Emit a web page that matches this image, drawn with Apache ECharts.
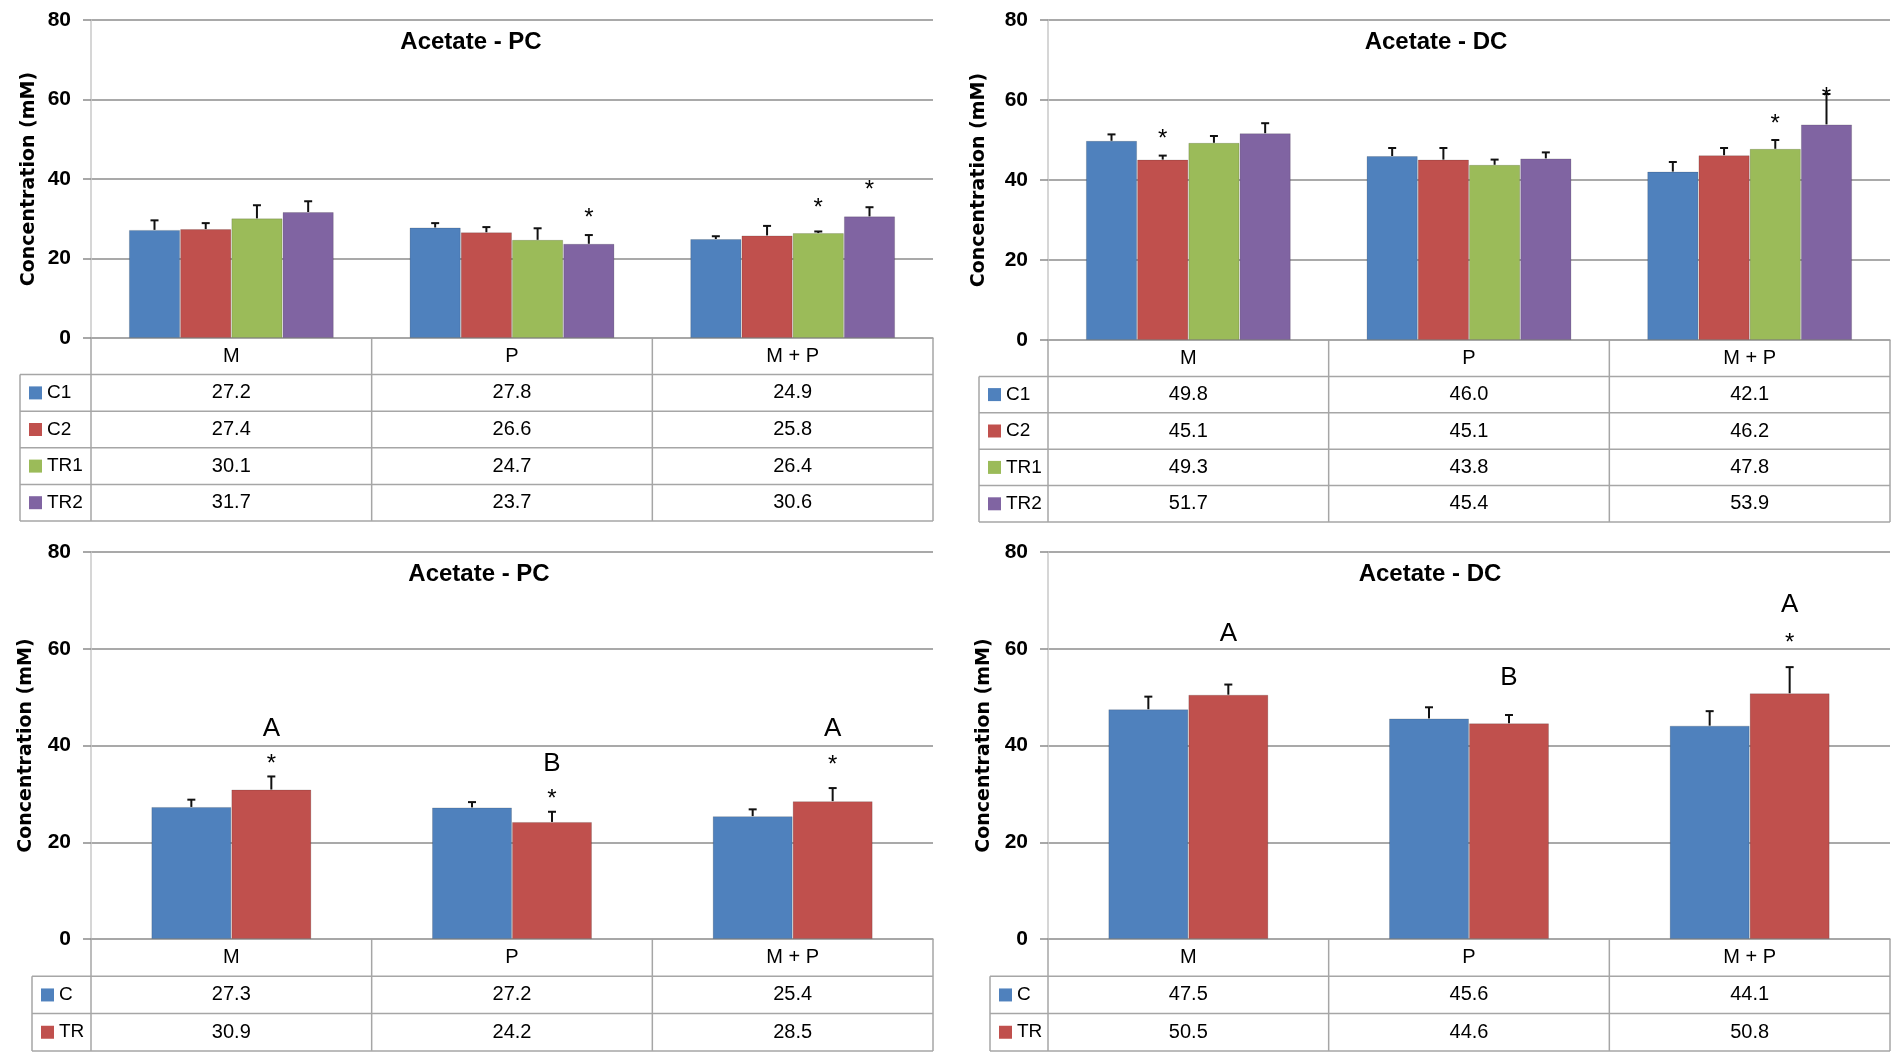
<!DOCTYPE html>
<html>
<head>
<meta charset="utf-8">
<script src="https://cdn.jsdelivr.net/npm/echarts@6/dist/echarts.min.js"></script>
<style>html,body{margin:0;padding:0;background:#fff;}#c{width:1901px;height:1063px;}</style>
</head>
<body>
<div id="c"></div>
<script>
// ---------- DATA ----------
const categories = ['M', 'P', 'M + P'];
const yMin = 0, yMax = 80, yStep = 20;

// Panel A: Acetate - PC (4 groups)
const titleA = 'Acetate - PC';
const namesA = ['C1', 'C2', 'TR1', 'TR2'];
const A_C1 = [27.2, 27.8, 24.9];
const A_C2 = [27.4, 26.6, 25.8];
const A_TR1 = [30.1, 24.7, 26.4];
const A_TR2 = [31.7, 23.7, 30.6];
const A_C1_err = [2.4, 1.1, 0.7];
const A_C2_err = [1.5, 1.3, 2.4];
const A_TR1_err = [3.3, 2.9, 0.4];
const A_TR2_err = [2.7, 2.2, 2.3];
const annA_cat = [1, 2, 2];
const annA_ser = [3, 2, 3];
const annA_y = [31.3, 33.9, 38.4];
const annA_txt = ['*', '*', '*'];

// Panel B: Acetate - DC (4 groups)
const titleB = 'Acetate - DC';
const namesB = ['C1', 'C2', 'TR1', 'TR2'];
const B_C1 = [49.8, 46.0, 42.1];
const B_C2 = [45.1, 45.1, 46.2];
const B_TR1 = [49.3, 43.8, 47.8];
const B_TR2 = [51.7, 45.4, 53.9];
const B_C1_err = [1.6, 2.0, 2.4];
const B_C2_err = [1.0, 2.9, 1.8];
const B_TR1_err = [1.7, 1.3, 2.2];
const B_TR2_err = [2.5, 1.5, 7.6];
const annB_cat = [0, 2, 2];
const annB_ser = [1, 2, 3];
const annB_y = [51.4, 55.2, 62.0];
const annB_txt = ['*', '*', '*'];

// Panel C: Acetate - PC (2 groups)
const titleC = 'Acetate - PC';
const namesC = ['C', 'TR'];
const C_C = [27.3, 27.2, 25.4];
const C_TR = [30.9, 24.2, 28.5];
const C_C_err = [1.5, 1.1, 1.4];
const C_TR_err = [2.7, 2.1, 2.7];
const annC_cat = [0, 0, 1, 1, 2, 2];
const annC_ser = [1, 1, 1, 1, 1, 1];
const annC_y = [37.2, 43.4, 30.0, 36.3, 37.0, 43.4];
const annC_txt = ['*', 'A', '*', 'B', '*', 'A'];

// Panel D: Acetate - DC (2 groups)
const titleD = 'Acetate - DC';
const namesD = ['C', 'TR'];
const D_C = [47.5, 45.6, 44.1];
const D_TR = [50.5, 44.6, 50.8];
const D_C_err = [2.6, 2.3, 3.0];
const D_TR_err = [2.1, 1.7, 5.4];
const annD_cat = [0, 1, 2, 2];
const annD_ser = [1, 1, 1, 1];
const annD_y = [63.0, 54.0, 62.3, 69.0];
const annD_txt = ['A', 'B', '*', 'A'];

const colors = ['#4F81BD', '#C0504D', '#9BBB59', '#8064A2'];

// ---------- LAYOUT ----------
const W = 1901, H = 1063;
const panels = [
  { title: titleA, names: namesA, vals: [A_C1, A_C2, A_TR1, A_TR2], errs: [A_C1_err, A_C2_err, A_TR1_err, A_TR2_err],
    ann: { cat: annA_cat, ser: annA_ser, y: annA_y, txt: annA_txt },
    l: 91, r: 933, t: 20, b: 338, tl: 20, rowH: 36.6, gap: 0.27, titleX: 466, titleY: 39, nameGap: 52 },
  { title: titleB, names: namesB, vals: [B_C1, B_C2, B_TR1, B_TR2], errs: [B_C1_err, B_C2_err, B_TR1_err, B_TR2_err],
    ann: { cat: annB_cat, ser: annB_ser, y: annB_y, txt: annB_txt },
    l: 1048, r: 1890, t: 20, b: 340, tl: 979, rowH: 36.4, gap: 0.27, titleX: 1431, titleY: 39, nameGap: 59 },
  { title: titleC, names: namesC, vals: [C_C, C_TR], errs: [C_C_err, C_TR_err],
    ann: { cat: annC_cat, ser: annC_ser, y: annC_y, txt: annC_txt },
    l: 91, r: 933, t: 552, b: 939, tl: 32, rowH: 37.3, gap: 0.43, titleX: 474, titleY: 571, nameGap: 55 },
  { title: titleD, names: namesD, vals: [D_C, D_TR], errs: [D_C_err, D_TR_err],
    ann: { cat: annD_cat, ser: annD_ser, y: annD_y, txt: annD_txt },
    l: 1048, r: 1890, t: 552, b: 939, tl: 990, rowH: 37.3, gap: 0.43, titleX: 1425, titleY: 571, nameGap: 54 }
];

const FONT = "'Liberation Sans', Arial, sans-serif";
const gridColor = '#8c8c8c';
const tableColor = '#a6a6a6';

const grid = [], xAxis = [], yAxis = [], series = [], title = [], graphic = [];

panels.forEach((p, pi) => {
  grid.push({ left: p.l, right: W - p.r, top: p.t, bottom: H - p.b, containLabel: false });
  title.push({ text: p.title, left: p.titleX, top: p.titleY - 14, textAlign: 'center',
    textStyle: { fontFamily: FONT, fontWeight: 'bold', fontSize: 24, color: '#000' } });
  xAxis.push({
    type: 'category', gridIndex: pi, data: categories,
    axisLine: { show: true, lineStyle: { color: tableColor, width: 1.5 } },
    axisTick: { show: false },
    axisLabel: {
      margin: 0, interval: 0, lineHeight: p.rowH, fontSize: 20, fontFamily: FONT, color: '#000',
      formatter: (v, idx) => [v].concat(p.vals.map(s => s[idx].toFixed(1))).join('\n')
    }
  });
  yAxis.push({
    type: 'value', gridIndex: pi, min: yMin, max: yMax, interval: yStep,
    name: 'Concentration (mM)', nameLocation: 'middle', nameGap: p.nameGap,
    nameTextStyle: { fontFamily: 'DejaVu Sans', fontWeight: 'bold', fontSize: 19, color: '#000' },
    axisLine: { show: true, lineStyle: { color: '#c8c8c8', width: 1.5 } },
    axisTick: { show: true, length: 8, lineStyle: { color: gridColor, width: 1.5 } },
    axisLabel: { margin: 20, fontFamily: FONT, fontWeight: 'bold', fontSize: 21, color: '#000' },
    splitLine: { show: true, lineStyle: { color: gridColor, width: 1.5 } }
  });
  const n = p.names.length;
  p.names.forEach((nm, si) => {
    series.push({
      type: 'bar', name: nm, xAxisIndex: pi, yAxisIndex: pi, data: p.vals[si],
      barGap: '0%', barCategoryGap: (p.gap * 100) + '%',
      itemStyle: { color: colors[si], borderColor: 'rgba(0,0,0,0.15)', borderWidth: 1 },
      emphasis: { disabled: true }
    });
  });
  // error bars
  const errData = [];
  p.vals.forEach((s, si) => s.forEach((v, c) => errData.push([c, v, si, p.errs[si][c]])));
  series.push({
    type: 'custom', xAxisIndex: pi, yAxisIndex: pi, z: 5, silent: true,
    encode: { x: 0, y: 1 }, data: errData,
    renderItem: (params, api) => {
      const c = api.value(0), v = api.value(1), si = api.value(2), e = api.value(3);
      const catW = api.size([1, 0])[0];
      const barW = catW * (1 - p.gap) / n;
      const cx = api.coord([c, 0])[0];
      const x = cx - n * barW / 2 + (si + 0.5) * barW;
      const y0 = api.coord([c, v])[1], y1 = api.coord([c, v + e])[1];
      return { type: 'group', children: [
        { type: 'line', shape: { x1: x, y1: y0, x2: x, y2: y1 }, style: { stroke: '#111', lineWidth: 2 } },
        { type: 'line', shape: { x1: x - 4, y1: y1, x2: x + 4, y2: y1 }, style: { stroke: '#111', lineWidth: 2 } }
      ] };
    }
  });
  // annotations
  const annData = p.ann.cat.map((c, k) => [c, p.ann.y[k], p.ann.ser[k], k]);
  series.push({
    type: 'custom', xAxisIndex: pi, yAxisIndex: pi, z: 6, silent: true,
    encode: { x: 0, y: 1 }, data: annData,
    renderItem: (params, api) => {
      const c = api.value(0), yv = api.value(1), si = api.value(2), k = api.value(3);
      const catW = api.size([1, 0])[0];
      const barW = catW * (1 - p.gap) / n;
      const cx = api.coord([c, 0])[0];
      const x = cx - n * barW / 2 + (si + 0.5) * barW;
      const y = api.coord([c, yv])[1];
      const t = p.ann.txt[k];
      const star = t === '*';
      const fs = star ? 24 : 26;
      return { type: 'text', style: {
        text: t, x: x, y: star ? y + fs * 0.22 : y, textAlign: 'center', textVerticalAlign: 'middle',
        fontFamily: FONT, fontSize: fs, fill: '#000' } };
    }
  });

  // table lines
  const rows = n + 1;
  const yb = p.b + rows * p.rowH;
  const ln = (x1, y1, x2, y2) => graphic.push({ type: 'line', silent: true,
    shape: { x1, y1, x2, y2 }, style: { stroke: tableColor, lineWidth: 1.5 } });
  for (let r = 1; r <= rows; r++) ln(p.tl, p.b + r * p.rowH, p.r, p.b + r * p.rowH);
  ln(p.tl, p.b + p.rowH, p.tl, yb);
  ln(p.l, p.b, p.l, yb);
  const cw = (p.r - p.l) / categories.length;
  for (let c = 1; c <= categories.length; c++) ln(p.l + c * cw, p.b, p.l + c * cw, yb);
  // legend keys in table
  p.names.forEach((nm, si) => {
    const cy = p.b + (si + 1.5) * p.rowH;
    graphic.push({ type: 'rect', silent: true, shape: { x: p.tl + 9, y: cy - 6.5, width: 13, height: 13 },
      style: { fill: colors[si] } });
    graphic.push({ type: 'text', silent: true, style: { text: nm, x: p.tl + 27, y: cy,
      textVerticalAlign: 'middle', fontFamily: FONT, fontSize: 19, fill: '#000' } });
  });
});

const chart = echarts.init(document.getElementById('c'), null, { renderer: 'canvas' });
chart.setOption({ animation: false, backgroundColor: '#fff', title, grid, xAxis, yAxis, series, graphic });
</script>
</body>
</html>
